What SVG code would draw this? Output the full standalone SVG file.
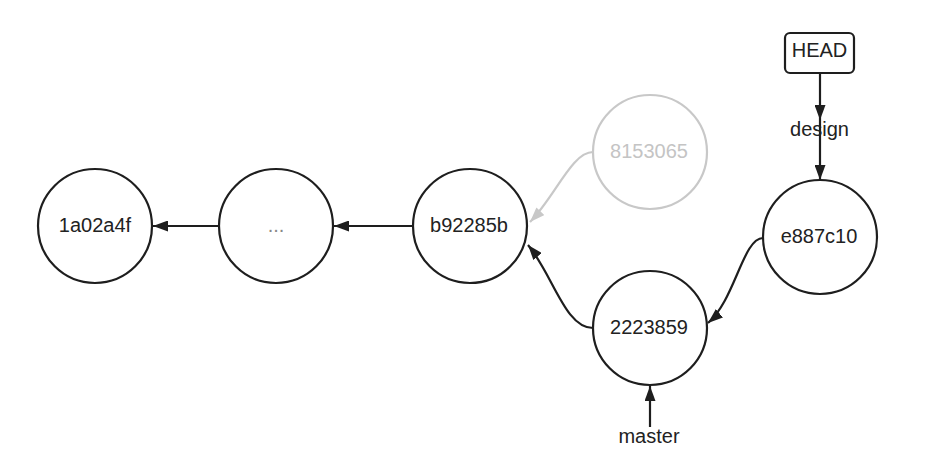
<svg xmlns="http://www.w3.org/2000/svg" width="926" height="465" viewBox="0 0 926 465">
<style>
.node{fill:#ffffff;stroke:#1e1e1e;stroke-width:2.2}
.ghost{fill:#ffffff;stroke:#c8c8c8;stroke-width:2.2}
.lbl{font-family:"Liberation Sans",Arial,sans-serif;font-size:20px;fill:#222222;text-anchor:middle}
.edge{fill:none;stroke:#1e1e1e;stroke-width:2.2}
.gedge{fill:none;stroke:#c8c8c8;stroke-width:2.2}
</style>
<defs>
<marker id="ah" markerUnits="userSpaceOnUse" markerWidth="15" markerHeight="11" refX="15" refY="5.5" orient="auto">
<path d="M0,0 L15,5.5 L0,11 z" fill="#1e1e1e"/>
</marker>
<marker id="gah" markerUnits="userSpaceOnUse" markerWidth="15" markerHeight="11" refX="15" refY="5.5" orient="auto">
<path d="M0,0 L15,5.5 L0,11 z" fill="#c8c8c8"/>
</marker>
</defs>
<rect width="926" height="465" fill="#ffffff"/>
<g id="connectors">
<path class="edge" d="M219,226 L153,226" marker-end="url(#ah)"/>
<path class="edge" d="M413,226 L334,226" marker-end="url(#ah)"/>
<path class="gedge" d="M593,152 C572,152 556,195 530,222" marker-end="url(#gah)"/>
<path class="edge" d="M593,328 C565,328 553,275 528,245" marker-end="url(#ah)"/>
<path class="edge" d="M763,238 C743,238 735,300 708,323" marker-end="url(#ah)"/>
<path class="edge" d="M820,73 L820,120" marker-end="url(#ah)"/>
<path class="edge" d="M820,120 L820,180" marker-end="url(#ah)"/>
<path class="edge" d="M650,427 L650,386" marker-end="url(#ah)"/>
</g>
<g id="n-1a02a4f">
<circle class="node" cx="95" cy="226" r="57"/>
<text class="lbl" x="95" y="232">1a02a4f</text>
</g>
<g id="n-ellipsis">
<circle class="node" cx="276" cy="226" r="57"/>
<text class="lbl" x="276" y="232" style="fill:#888888">...</text>
</g>
<g id="n-b92285b">
<circle class="node" cx="470" cy="226" r="57"/>
<text class="lbl" x="469" y="232">b92285b</text>
</g>
<g id="n-8153065">
<circle class="ghost" cx="650" cy="152" r="57"/>
<text class="lbl" x="649" y="158" style="fill:#c4c4c4">8153065</text>
</g>
<g id="n-e887c10">
<circle class="node" cx="820" cy="237" r="57"/>
<text class="lbl" x="819" y="243">e887c10</text>
</g>
<g id="n-2223859">
<circle class="node" cx="650" cy="328" r="57"/>
<text class="lbl" x="649" y="334">2223859</text>
</g>
<g id="n-HEAD">
<rect class="node" x="785" y="33" width="69" height="40" rx="5" ry="5"/>
<text class="lbl" x="819.5" y="57">HEAD</text>
</g>
<g id="l-design">
<text class="lbl" x="819.5" y="136">design</text>
</g>
<g id="l-master">
<text class="lbl" x="649" y="443">master</text>
</g>
</svg>
